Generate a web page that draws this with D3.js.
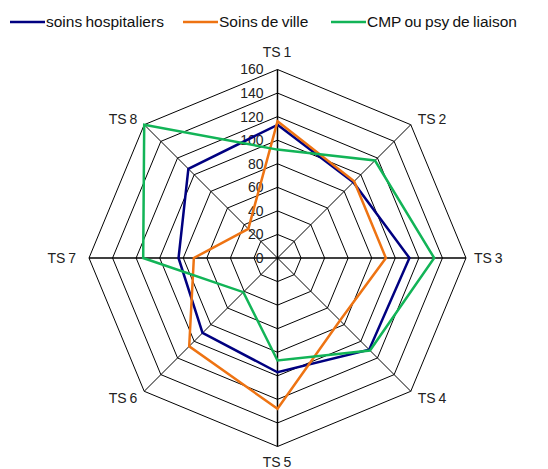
<!DOCTYPE html>
<html>
<head>
<meta charset="utf-8">
<script src="https://cdn.jsdelivr.net/npm/d3@7"></script>
<style>
  html, body { margin: 0; padding: 0; background: #fff; }
  svg { display: block; font-family: "Liberation Sans", Arial, sans-serif; }
</style>
</head>
<body>
<svg id="chart" width="548" height="469"></svg>
<script>
// Radar axes and scale ticks
const axes = ["TS 1", "TS 2", "TS 3", "TS 4", "TS 5", "TS 6", "TS 7", "TS 8"];
const ticks = [0, 20, 40, 60, 80, 100, 120, 140, 160];

// Series values, one per axis
const seriesNames = ["soins hospitaliers", "Soins de ville", "CMP ou psy de liaison"];
const soinsHospitaliers = [113, 91, 112, 110, 97, 90, 84, 107];
const soinsDeVille = [116, 92, 92, 75, 128, 106, 71, 35];
const cmpPsyLiaison = [92, 117, 133, 111, 87, 41, 114, 160];
const seriesColors = ["#000080", "#EE7312", "#12B457"];

const svg = d3.select("#chart");
const cx = 277.5, cy = 258, R = 188.5;
const r = d3.scaleLinear().domain([0, 160]).range([0, R]);
const angle = i => (i / axes.length) * 2 * Math.PI; // 0 = up, clockwise
const pt = (i, v) => [cx + r(v) * Math.sin(angle(i)), cy - r(v) * Math.cos(angle(i))];

const grid = svg.append("g").attr("stroke", "#000").attr("fill", "none");

// Octagonal rings
ticks.slice(1).forEach(t => {
  grid.append("path")
    .attr("stroke-width", 1)
    .attr("d", d3.line()(axes.map((_, i) => pt(i, t))) + "Z");
});

// Spokes
axes.forEach((_, i) => {
  const [x, y] = pt(i, 160);
  grid.append("line")
    .attr("x1", cx).attr("y1", cy).attr("x2", x).attr("y2", y)
    .attr("stroke-width", (i % 2 === 0) ? 1.5 : 1);
});

// Scale labels along the top spoke
svg.append("g").selectAll("text").data(ticks).join("text")
  .attr("x", cx - 14)
  .attr("y", d => cy - r(d))
  .attr("dy", "0.35em")
  .attr("text-anchor", "end")
  .attr("font-size", 14)
  .attr("fill", "#222")
  .text(d => d);

// Series polygons
const allSeries = [soinsHospitaliers, soinsDeVille, cmpPsyLiaison];
allSeries.forEach((vals, s) => {
  svg.append("path")
    .attr("d", d3.line()(vals.map((v, i) => pt(i, v))) + "Z")
    .attr("fill", "none")
    .attr("stroke", seriesColors[s])
    .attr("stroke-width", 2.5)
    .attr("stroke-linejoin", "miter");
});

// Axis labels
const labelPos = [
  [277, 52, "middle"], [432, 119, "middle"], [474, 258, "start"], [432, 398, "middle"],
  [277, 462, "middle"], [123, 398, "middle"], [76, 258, "end"], [123, 119, "middle"]
];
axes.forEach((a, i) => {
  const [x, y, anchor] = labelPos[i];
  svg.append("text")
    .attr("x", x).attr("y", y).attr("dy", "0.35em")
    .attr("text-anchor", anchor)
    .attr("font-size", 14)
    .attr("fill", "#222")
    .attr("word-spacing", -1)
    .text(a);
});

// Legend
const legendX = [10, 183, 331];
const legend = svg.append("g");
seriesNames.forEach((n, s) => {
  legend.append("line")
    .attr("x1", legendX[s]).attr("x2", legendX[s] + 35)
    .attr("y1", 22).attr("y2", 22)
    .attr("stroke", seriesColors[s]).attr("stroke-width", 2.5);
  legend.append("text")
    .attr("x", legendX[s] + 36).attr("y", 22).attr("dy", "0.35em")
    .attr("font-size", 15.5).attr("fill", "#111")
    .attr("word-spacing", -1)
    .text(n);
});
</script>
</body>
</html>
